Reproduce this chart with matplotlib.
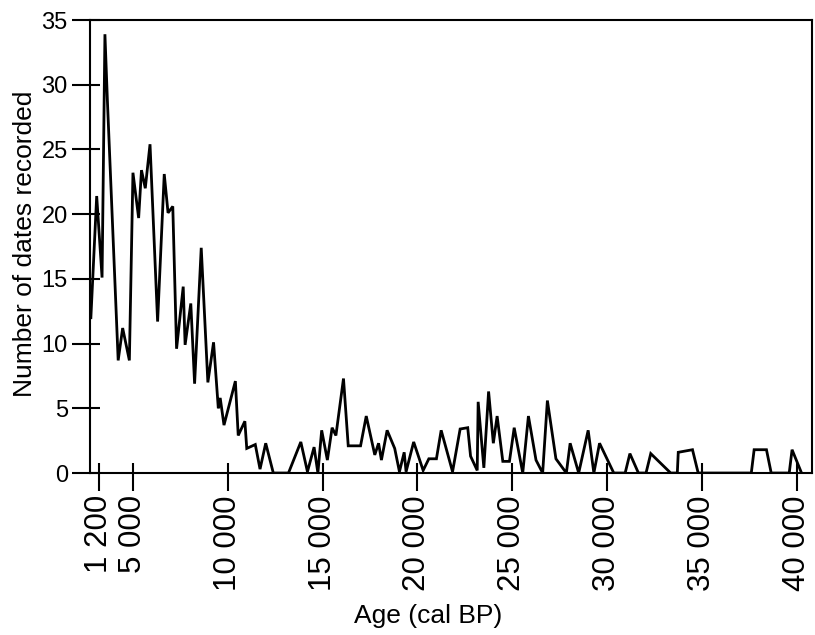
import matplotlib
matplotlib.use("Agg")
import matplotlib.pyplot as plt
import numpy as np

plt.rcParams['font.family'] = ['Liberation Sans', 'DejaVu Sans']

# age of each point (cal BP) and number of dates recorded
ages = [300, 950, 1550, 1870, 2150, 3350, 3850, 4600, 5000, 5300, 5450, 5650,
        5900, 6300, 6650, 6850, 7100, 7300, 7650, 7750, 8050, 8250, 8600, 8950,
        9250, 9500, 9600, 9800, 10400, 10550, 10900, 11000, 11450, 11700, 12000,
        12400, 13200, 13850, 14200, 14550, 14750, 14950, 15250, 15500, 15700,
        16100, 16350, 17000, 17300, 17750, 17950, 18100, 18400, 18800, 19050,
        19300, 19400, 19800, 20300, 20600, 21000, 21250, 21850, 22250, 22650,
        22800, 23150, 23200, 23500, 23750, 24000, 24200, 24500, 24850, 25100,
        25550, 25850, 26250, 26600, 26850, 27300, 27850, 28050, 28500, 29000,
        29300, 29600, 30350, 30950, 31200, 31650, 32050, 32300, 33350, 33700,
        33750, 34500, 34800, 37600, 37750, 38400, 38650, 39600, 39750, 40250]
counts = [12.0, 21.4, 15.1, 33.9, 28.7, 8.7, 11.2, 8.7, 23.2, 19.7, 23.4, 22.0,
          25.4, 11.7, 23.1, 20.1, 20.6, 9.6, 14.4, 9.9, 13.1, 6.9, 17.4, 7.0,
          10.1, 5.0, 5.8, 3.7, 7.1, 2.9, 4.0, 1.9, 2.2, 0.3, 2.3,
          0, 0, 2.4, 0.1, 2.0, 0, 3.3, 1.0, 3.5, 2.9,
          7.3, 2.1, 2.1, 4.4, 1.4, 2.3, 1.0, 3.3, 1.9, 0.1,
          1.6, 0.1, 2.4, 0.2, 1.1, 1.1, 3.3, 0.1, 3.4, 3.5,
          1.3, 0.2, 5.5, 0.4, 6.3, 2.3, 4.4, 0.9, 0.9, 3.5,
          0, 4.4, 1.0, 0, 5.6, 1.1, 0, 2.3, 0, 3.3,
          0, 2.3, 0, 0, 1.5, 0, 0, 1.5, 0, 0,
          1.6, 1.8, 0, 0, 1.8, 1.8, 0, 0, 1.8, 0]

xticks = [1200, 5000, 10000, 15000, 20000, 25000, 30000, 35000, 40000]
xticklabels = ['1 200', '5 000', '10 000', '15 000', '20 000', '25 000',
               '30 000', '35 000', '40 000']
yticks = [0, 5, 10, 15, 20, 25, 30, 35]

# axis is compressed below 5 000 BP
k = 0.472
def fwd(a):
    return np.interp(a, [-100000, 5000, 100000], [5000 - 105000 * k, 5000, 100000])
def inv(p):
    return np.interp(p, [5000 - 105000 * k, 5000, 100000], [-100000, 5000, 100000])

fig = plt.figure(figsize=(8.15, 6.35), dpi=100)
ax = fig.add_axes([0.1104, 0.2551, 0.8859, 0.7134])
ax.set_xscale('function', functions=(fwd, inv))

ax.plot(ages, counts, color='black', lw=2.0, solid_joinstyle='miter')

ax.set_xlim(200, 40800)
ax.set_ylim(0, 35)

ax.set_xticks(xticks)
ax.set_xticklabels(xticklabels, rotation=90, fontsize=22.5)
ax.set_xticks(xticks, minor=True)
ax.set_yticks(yticks)
ax.set_yticklabels([str(v) for v in yticks], fontsize=17)
ax.set_yticks(yticks, minor=True)
ax.xaxis.remove_overlapping_locs = False
ax.yaxis.remove_overlapping_locs = False
ax.tick_params(which='major', direction='out', length=13, width=1.5, pad=3)
ax.tick_params(which='minor', direction='in', length=7, width=1.5)
ax.tick_params(which='minor', labelbottom=False, labelleft=False)

for s in ax.spines.values():
    s.set_linewidth(1.5)

ax.set_xlabel('Age (cal BP)', fontsize=19)
ax.xaxis.set_label_coords((428 - 90) / 722, -0.29)
ax.set_ylabel('Number of dates recorded', fontsize=19)
ax.yaxis.set_label_coords(-0.073, 0.506)

fig.savefig('out.png', dpi=100)
